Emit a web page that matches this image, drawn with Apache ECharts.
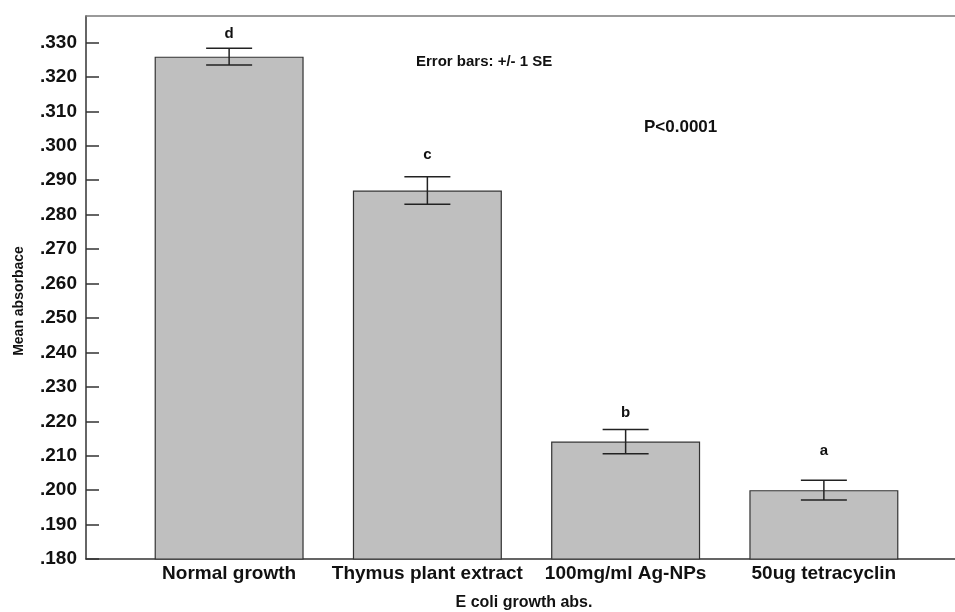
<!DOCTYPE html>
<html>
<head>
<meta charset="utf-8">
<script src="https://cdn.jsdelivr.net/npm/echarts@6/dist/echarts.min.js"></script>
<style>
  html, body { margin: 0; padding: 0; background: #fff; }
  #chart { width: 955px; height: 612px; }
</style>
</head>
<body>
<div id="chart"></div>
<script>
const categories = ['Normal growth', 'Thymus plant extract', '100mg/ml Ag-NPs', '50ug tetracyclin'];
const means = [0.3259, 0.2870, 0.2141, 0.2000];
const stdErr = [0.0024, 0.0040, 0.0035, 0.0029];
const letters = ['d', 'c', 'b', 'a'];
const letterY = [0.3325, 0.2974, 0.2225, 0.2114];
const yTicks = [0.18, 0.19, 0.20, 0.21, 0.22, 0.23, 0.24, 0.25, 0.26, 0.27, 0.28, 0.29, 0.30, 0.31, 0.32, 0.33];
const yMin = 0.18;
const yMax = 0.3377;

const FONT = '"Liberation Sans", Arial, sans-serif';
const chart = echarts.init(document.getElementById('chart'), null, { renderer: 'canvas' });

const fmt = v => v.toFixed(3).replace(/^0/, '');

const option = {
  backgroundColor: '#ffffff',
  animation: false,
  textStyle: { fontFamily: FONT },
  grid: [
    { left: 86, right: -10, top: 16, bottom: 53 },
    { left: 130, right: 32, top: 16, bottom: 53 }
  ],
  xAxis: [
    {
      type: 'value', gridIndex: 0, min: 0, max: 1, position: 'bottom',
      axisLine: { show: true, lineStyle: { color: '#333', width: 1.5 } },
      axisTick: { show: false }, axisLabel: { show: false }, splitLine: { show: false }
    },
    {
      type: 'value', gridIndex: 0, min: 0, max: 1, position: 'top',
      axisLine: { show: true, lineStyle: { color: '#7a7a7a', width: 1.5 } },
      axisTick: { show: false }, axisLabel: { show: false }, splitLine: { show: false }
    },
    {
      type: 'category', gridIndex: 1, data: categories,
      axisLine: { show: false },
      axisTick: { show: true, inside: true, length: 13, alignWithLabel: true, lineStyle: { color: '#333', width: 1.5 } },
      axisLabel: { fontSize: 19, fontWeight: 'bold', color: '#111', margin: 5, fontFamily: FONT, interval: 0 },
      splitLine: { show: false }
    }
  ],
  yAxis: [
    {
      type: 'value', gridIndex: 0, min: yMin, max: yMax,
      axisLine: { show: true, lineStyle: { color: '#333', width: 1.5 } },
      axisTick: { show: true, inside: true, length: 13, customValues: yTicks, lineStyle: { color: '#333', width: 1.5 } },
      axisLabel: { customValues: yTicks, formatter: fmt, fontSize: 19, fontWeight: 'bold', color: '#111', margin: 9, fontFamily: FONT },
      splitLine: { show: false }
    },
    {
      type: 'value', gridIndex: 1, min: yMin, max: yMax, show: false
    }
  ],
  series: [
    {
      type: 'bar', xAxisIndex: 2, yAxisIndex: 1,
      data: means,
      barWidth: 149,
      itemStyle: { color: '#bfbfbf', borderColor: '#333', borderWidth: 1.2 }
    },
    {
      type: 'custom', xAxisIndex: 2, yAxisIndex: 1,
      data: means.map((m, i) => [i, m - stdErr[i], m + stdErr[i]]),
      encode: { x: 0, y: [1, 2] },
      renderItem: function (params, api) {
        const lo = api.coord([api.value(0), api.value(1)]);
        const hi = api.coord([api.value(0), api.value(2)]);
        const hw = 23;
        const st = { stroke: '#222', lineWidth: 1.5 };
        return {
          type: 'group',
          children: [
            { type: 'line', shape: { x1: lo[0], y1: lo[1], x2: hi[0], y2: hi[1] }, style: st },
            { type: 'line', shape: { x1: lo[0] - hw, y1: lo[1], x2: lo[0] + hw, y2: lo[1] }, style: st },
            { type: 'line', shape: { x1: hi[0] - hw, y1: hi[1], x2: hi[0] + hw, y2: hi[1] }, style: st }
          ]
        };
      },
      z: 5
    },
    {
      type: 'custom', xAxisIndex: 2, yAxisIndex: 1,
      data: letterY.map((v, i) => [i, v]),
      encode: { x: 0, y: 1 },
      renderItem: function (params, api) {
        const p = api.coord([api.value(0), api.value(1)]);
        return {
          type: 'text',
          x: p[0], y: p[1],
          style: {
            text: letters[params.dataIndex],
            font: 'bold 15px ' + FONT,
            fill: '#111',
            align: 'center',
            verticalAlign: 'middle'
          }
        };
      },
      z: 6
    }
  ],
  graphic: [
    {
      type: 'text', x: 19, y: 301, rotation: Math.PI / 2,
      style: { text: 'Mean absorbace', font: 'bold 14px ' + FONT, fill: '#111', align: 'center', verticalAlign: 'middle' }
    },
    {
      type: 'text', x: 524, y: 603,
      style: { text: 'E coli growth abs.', font: 'bold 16px ' + FONT, fill: '#111', align: 'center', verticalAlign: 'middle' }
    },
    {
      type: 'text', x: 416, y: 62,
      style: { text: 'Error bars: +/- 1 SE', font: 'bold 15px ' + FONT, fill: '#111', align: 'left', verticalAlign: 'middle' }
    },
    {
      type: 'text', x: 644, y: 127,
      style: { text: 'P<0.0001', font: 'bold 17px ' + FONT, fill: '#111', align: 'left', verticalAlign: 'middle' }
    }
  ]
};

chart.setOption(option);
</script>
</body>
</html>
